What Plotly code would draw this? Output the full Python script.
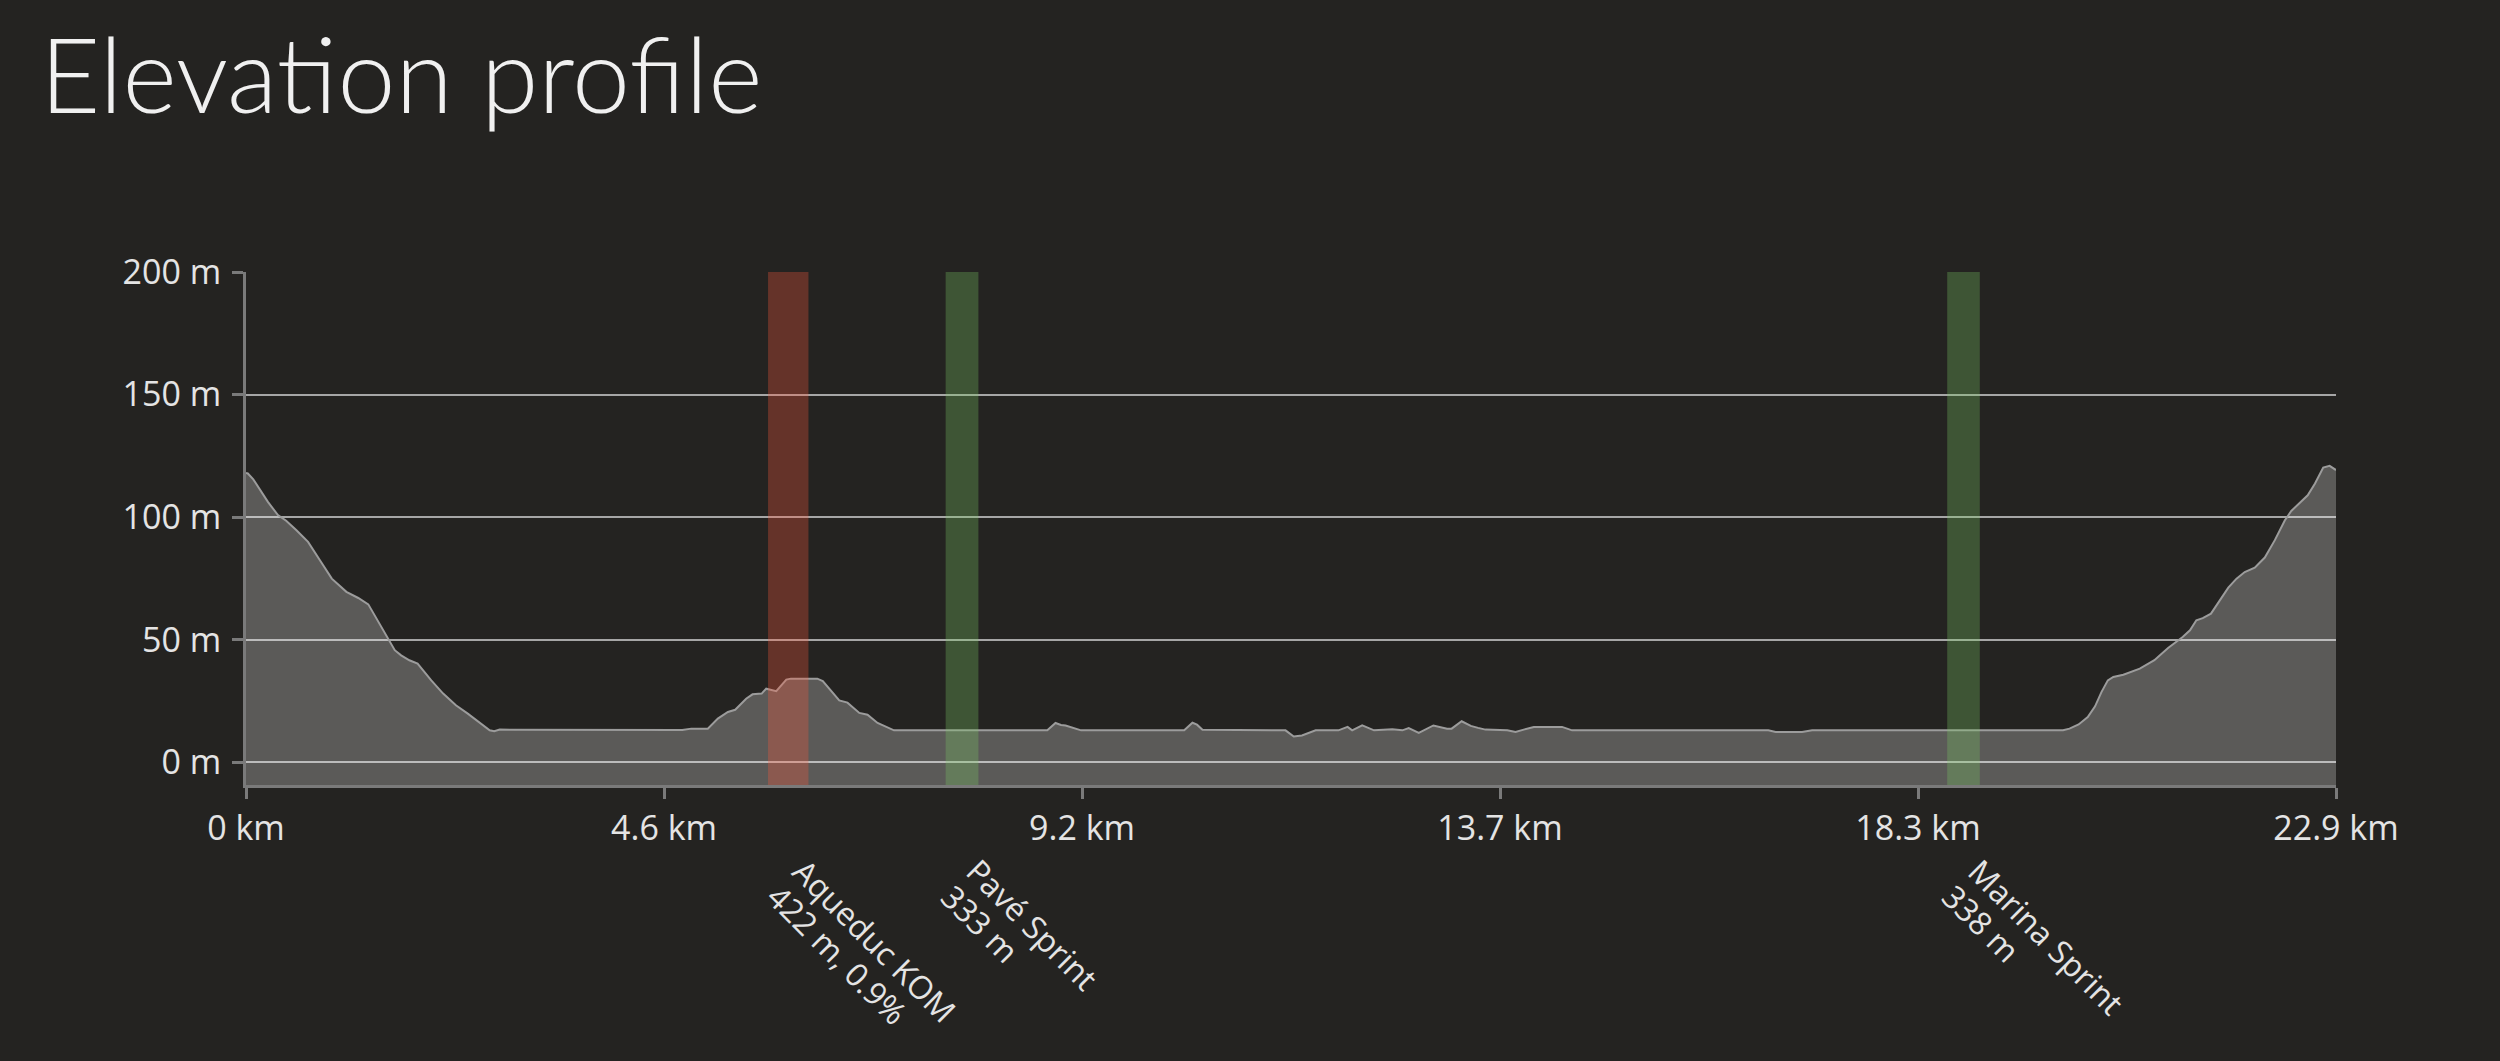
import plotly.graph_objects as go

# ---- data ----
dist_km = [0.00, 0.02, 0.08, 0.24, 0.35, 0.44, 0.55, 0.68, 0.81, 0.94, 1.10, 1.23, 1.34, 1.47,
           1.56, 1.63, 1.70, 1.79, 1.88, 2.03, 2.16, 2.30, 2.43, 2.56, 2.67, 2.72, 2.78, 4.78,
           4.88, 5.06, 5.17, 5.28, 5.36, 5.48, 5.55, 5.65, 5.70, 5.81, 5.92, 5.97, 6.26, 6.32,
           6.50, 6.59, 6.72, 6.81, 6.92, 7.10, 8.78, 8.87, 8.93, 8.98, 9.15, 10.28, 10.37, 10.42,
           10.48, 11.39, 11.48, 11.57, 11.72, 11.97, 12.07, 12.12, 12.23, 12.36, 12.56, 12.67,
           12.74, 12.85, 13.01, 13.16, 13.21, 13.32, 13.42, 13.50, 13.58, 13.82, 13.91, 14.00,
           14.11, 14.42, 14.53, 16.68, 16.76, 17.05, 17.16, 19.91, 19.98, 20.08, 20.18, 20.26,
           20.33, 20.40, 20.46, 20.57, 20.75, 20.91, 21.06, 21.22, 21.30, 21.37, 21.44, 21.53,
           21.63, 21.72, 21.81, 21.90, 22.01, 22.12, 22.23, 22.34, 22.41, 22.50, 22.59, 22.67,
           22.76, 22.83, 22.90]
elev_m = [118.0, 117.8, 115.4, 106.2, 100.8, 98.5, 94.7, 89.9, 82.4, 74.9, 69.5, 67.0, 64.4, 55.9,
          50.0, 45.7, 43.6, 41.6, 40.2, 33.4, 28.0, 23.2, 19.8, 16.0, 13.0, 12.6, 13.3, 13.1,
          13.7, 13.7, 17.8, 20.5, 21.4, 25.9, 27.7, 28.0, 30.0, 29.0, 33.7, 34.1, 34.1, 33.1,
          25.2, 24.3, 20.1, 19.4, 16.0, 13.0, 13.0, 16.0, 15.2, 15.0, 13.0, 13.0, 16.1, 15.3,
          13.2, 13.0, 10.5, 10.9, 13.0, 13.0, 14.4, 13.0, 15.0, 13.0, 13.4, 13.0,
          13.9, 12.0, 15.0, 13.7, 13.7, 16.7, 14.8, 14.0, 13.3, 13.0, 12.3, 13.3,
          14.4, 14.4, 13.0, 13.0, 12.3, 12.3, 13.0, 13.0, 13.7, 15.4, 18.4, 22.8,
          28.6, 33.4, 34.8, 35.7, 38.2, 41.6, 46.6, 51.1, 53.8, 57.9, 58.8, 60.6,
          66.1, 71.2, 74.9, 77.6, 79.4, 83.5, 90.6, 98.7, 102.5, 105.5, 108.9, 113.7,
          120.2, 120.9, 119.2]

total_km = 22.9
x_tick_vals = [0, 4.58, 9.16, 13.74, 18.32, 22.9]
x_tick_text = ["0 km", "4.6 km", "9.2 km", "13.7 km", "18.3 km", "22.9 km"]
y_tick_vals = [0, 50, 100, 150, 200]
y_tick_text = ["0 m", "50 m", "100 m", "150 m", "200 m"]

seg_names = ["Aqueduc KOM", "Pavé Sprint", "Marina Sprint"]
seg_details = ["422 m, 0.9%", "333 m", "338 m"]
seg_start = [5.72, 7.666, 18.64]
seg_end = [6.163, 8.025, 18.997]
seg_kind = ["kom", "sprint", "sprint"]

Y_MIN, Y_MAX = -9.3, 200

BG = "#242321"
TITLE_FONT = "Lato, Raleway, sans-serif"
FONT = "'Open Sans', Lato, sans-serif"
band_colors = {"kom": "rgba(253,88,61,0.3)", "sprint": "rgba(123,202,101,0.3)"}

fig = go.Figure()
# baseline so the area extends to the bottom of the plot
fig.add_trace(go.Scatter(x=dist_km, y=[Y_MIN] * len(dist_km), mode="lines",
                         line=dict(width=0), hoverinfo="skip", showlegend=False))
fig.add_trace(go.Scatter(x=dist_km, y=elev_m, mode="lines", fill="tonexty",
                         fillcolor="rgba(255,255,255,0.25)",
                         line=dict(color="#9c9c9c", width=2), showlegend=False))

XS, YS, LINE_OFF = -7, -62, 25.5
for s, e, name, det, kind in zip(seg_start, seg_end, seg_names, seg_details, seg_kind):
    fig.add_shape(type="rect", xref="x", yref="paper", x0=s, x1=e, y0=0, y1=1,
                  fillcolor=band_colors[kind], line=dict(width=0), layer="above")
    for i, txt in enumerate([name, det]):
        fig.add_annotation(x=(s + e) / 2, y=0, xref="x", yref="paper",
                           text=txt, showarrow=False, textangle=45,
                           xanchor="left", yanchor="top", align="left",
                           xshift=XS - i * LINE_OFF, yshift=YS - i * LINE_OFF,
                           font=dict(family=FONT, size=32, color="#e4e4e4"))

fig.update_layout(
    width=2500, height=1061,
    paper_bgcolor=BG, plot_bgcolor=BG,
    margin=dict(l=246, r=164, t=272, b=276),
    title=dict(text="Elevation profile", xref="container", yref="container",
               x=0.016, y=0.928, xanchor="left", yanchor="middle",
               font=dict(family=TITLE_FONT, size=104, color="#f0f0f0", weight=300)),
    xaxis=dict(range=[0, total_km], tickvals=x_tick_vals, ticktext=x_tick_text,
               showgrid=False, zeroline=False, showline=True, linecolor="#7a7a7a",
               linewidth=3, ticks="outside", ticklen=11, tickwidth=3, tickcolor="#7a7a7a",
               tickfont=dict(family=FONT, size=34, color="#e4e4e4"), fixedrange=True),
    yaxis=dict(range=[Y_MIN, Y_MAX], tickvals=y_tick_vals, ticktext=y_tick_text,
               showgrid=True, gridcolor="#a6a6a6", gridwidth=1.5, zeroline=False,
               showline=True, linecolor="#7a7a7a", linewidth=3, ticks="outside",
               ticklen=11, tickwidth=3, tickcolor="#7a7a7a", ticklabelstandoff=4,
               tickfont=dict(family=FONT, size=34, color="#e4e4e4"), fixedrange=True),
    showlegend=False,
)

fig.write_html("out.html", config={"displayModeBar": False},
               post_script="document.body.style.margin='0';document.body.style.background='" + BG + "';")
